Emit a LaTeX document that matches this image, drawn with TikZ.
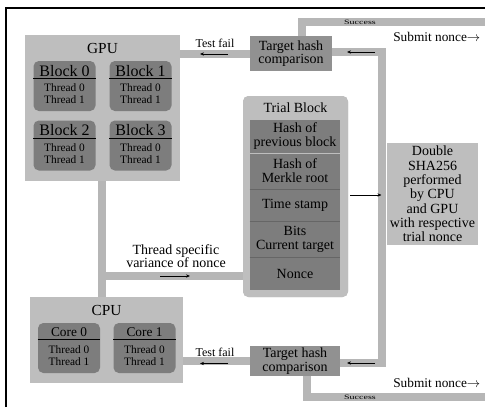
\documentclass[tikz,border=0pt]{standalone}
\usepackage{fontspec}
\setmainfont{Liberation Serif}
\usetikzlibrary{arrows.meta,positioning}
\definecolor{boxlight}{RGB}{190,190,190}
\definecolor{boxdark}{RGB}{125,125,125}
\definecolor{cmpgray}{RGB}{145,145,145}
\definecolor{bargray}{RGB}{182,182,182}
\tikzset{
  outerbox/.style={draw=none,fill=boxlight,minimum width=#1},
  unitbox/.style={draw=none,fill=boxdark,rounded corners=4pt,minimum width=46.5pt,minimum height=37.5pt},
  cmpbox/.style={draw=none,fill=cmpgray,align=center,font=\fontsize{10.5}{10}\selectfont,inner sep=0pt},
  rowbox/.style={draw=none,fill=boxdark,minimum width=67.5pt,align=center,font=\fontsize{10.5}{10.5}\selectfont,inner sep=0pt},
  bar/.style={draw=bargray,line width=6pt},
  flowarrow/.style={-{Stealth[length=3pt,width=2.5pt]},line width=0.6pt},
  smalllabel/.style={font=\fontsize{9}{10}\selectfont,inner sep=0.75pt},
  succlabel/.style={font=\fontsize{5}{5}\selectfont,inner sep=0pt,xscale=1.5}
}
\begin{document}
\begin{tikzpicture}[x=0.75pt,y=0.75pt,yscale=-1,xscale=1]
\useasboundingbox (0,0) rectangle (485,407);
% frame
\draw [line width=1.5pt] (6,407) -- (6,8) -- (485,8);

% connector bars (below the boxes)
\coordinate (topturn) at (302,22);
\coordinate (topend) at (486,22);
\coordinate (botturn) at (307,397);
\coordinate (botend) at (486,397);
\coordinate (rtop) at (381.5,52);
\coordinate (rbot) at (381.5,363);
\coordinate (trialhit) at (381.5,195);
\coordinate (splitpt) at (101.5,276);
\coordinate (trialin) at (243,276);

% GPU
\node [outerbox=116.25pt,minimum height=109.5pt] (gpu) at (102.5,108) {};
\node [font=\fontsize{11.5}{12}\selectfont] (gputitle) at (102.5,48) {GPU};
% CPU
\node [outerbox=114.75pt,minimum height=64.5pt] (cpu) at (106.5,340) {};
\node [font=\fontsize{11.5}{12}\selectfont] (cputitle) at (106.5,310) {CPU};

% comparisons
\node [cmpbox,minimum width=61.5pt,minimum height=26.25pt] (cmptop) at (291,53.5) {Target hash\\comparison};
\node [cmpbox,minimum width=67.5pt,minimum height=22.5pt] (cmpbot) at (295,361) {Target hash\\comparison};

% trial block
\node [outerbox=78.75pt,minimum height=150.75pt,rounded corners=4pt] (trial) at (295.5,196.5) {};
\node [font=\fontsize{10.5}{11}\selectfont] (trialtitle) at (295.5,108) {Trial Block};

% sha box
\node [outerbox=68.25pt,minimum height=76.5pt,align=center,font=\fontsize{10.5}{10.7}\selectfont,inner sep=0pt] (sha) at (432.5,194) {Double\\SHA256\\performed\\by CPU\\and GPU\\with respective\\trial nonce};

% bars
\draw [bar] (gpu.east |- cmptop) -- (cmptop.west);
\draw [bar] (cmptop.north -| topturn) -- (topturn) -- (topend);
\draw [bar] (cmptop.east |- rtop) -- (rtop) -- (rbot) -- (cmpbot.east |- rbot);
\draw [bar] (gpu.south -| splitpt) -- (cpu.north -| splitpt);
\draw [bar] (splitpt) -- (trialin);
\draw [bar] (cpu.east |- cmpbot) -- (cmpbot.west);
\draw [bar] (cmpbot.south -| botturn) -- (botturn) -- (botend);

% redraw boxes on top of bars
\node [cmpbox,minimum width=61.5pt,minimum height=26.25pt] at (cmptop) {Target hash\\comparison};
\node [cmpbox,minimum width=67.5pt,minimum height=22.5pt] at (cmpbot) {Target hash\\comparison};
\node [outerbox=78.75pt,minimum height=150.75pt,rounded corners=4pt] at (trial) {};
\node [font=\fontsize{10.5}{11}\selectfont] at (trialtitle) {Trial Block};

% GPU blocks
\foreach \name/\cx/\cy/\lab in {blk0/64.5/86/Block 0,blk1/140.5/86/Block 1,blk2/64.5/145.5/Block 2,blk3/140.5/145.5/Block 3}{
  \node [unitbox] (\name) at (\cx,\cy) {};
  \node [font=\fontsize{12}{12}\selectfont,inner sep=0pt] at (\cx,\cy-15) {\lab};
  \draw [line width=0.5pt] ([yshift=13.5pt]\name.north west) -- ([yshift=13.5pt]\name.north east);
  \node [font=\fontsize{8.5}{9}\selectfont,align=center,inner sep=0pt] at (\cx,\cy+8) {Thread 0\\Thread 1};
}
% CPU cores
\foreach \name/\cx/\lab in {core0/69/Core 0,core1/144.5/Core 1}{
  \node [unitbox] (\name) at (\cx,348) {};
  \node [font=\fontsize{10}{10}\selectfont,inner sep=0pt] at (\cx,332) {\lab};
  \draw [line width=0.5pt] ([yshift=12.75pt]\name.north west) -- ([yshift=12.75pt]\name.north east);
  \node [font=\fontsize{8.5}{9}\selectfont,align=center,inner sep=0pt] at (\cx,356) {Thread 0\\Thread 1};
}

% trial block rows
\node [rowbox,minimum height=24.75pt] (row1) at (295,136.5) {Hash of\\previous block};
\node [rowbox,minimum height=26.25pt,below=0pt of row1] (row2) {Hash of\\Merkle root};
\node [rowbox,minimum height=24pt,below=0pt of row2] (row3) {Time stamp};
\node [rowbox,minimum height=26.25pt,below=0pt of row3] (row4) {Bits\\Current target};
\node [rowbox,minimum height=24.75pt,below=0pt of row4] (row5) {Nonce};
\foreach \r in {row3,row4,row5}
  \draw [line width=0.4pt,black!60] (\r.north west) -- (\r.north east);

% arrows and labels
\draw [flowarrow] (228,54) -- (200,54);
\node [smalllabel] (failtop) at (215,43) {Test fail};
\draw [flowarrow] (228,363.5) -- (200,363.5);
\node [smalllabel] (failbot) at (215,352) {Test fail};
\draw [flowarrow] (375,52) -- (347,52);
\draw [flowarrow] (375,363) -- (347,363);
\draw [flowarrow] (trial.east |- trialhit) ++(2,0) -- (trialhit);
\draw [flowarrow] (160,276) -- (190,276);
\node [smalllabel,align=center,font=\fontsize{10.5}{10}\selectfont] (varlabel) at (176,256) {Thread specific\\variance of nonce};
\node [succlabel] (succtop) at (360,22) {Success};
\node [succlabel] (succbot) at (360,397) {Success};
\node [smalllabel,anchor=west,font=\fontsize{10}{10}\selectfont] (subtop) at (392,37) {Submit nonce$\rightarrow$};
\node [smalllabel,anchor=west,font=\fontsize{10}{10}\selectfont] (subbot) at (392,383) {Submit nonce$\rightarrow$};
\end{tikzpicture}
\end{document}
